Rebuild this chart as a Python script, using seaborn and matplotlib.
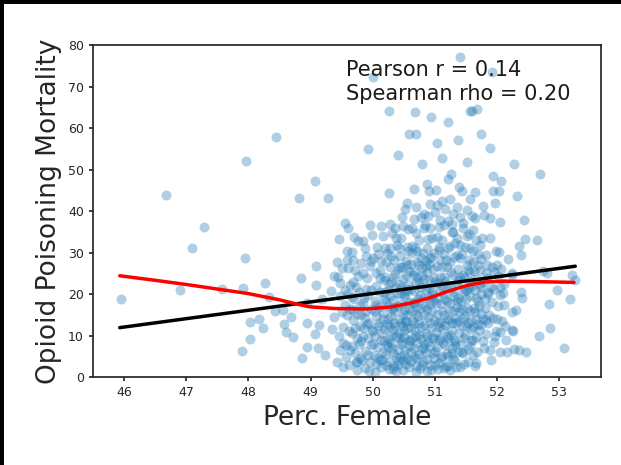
import matplotlib
matplotlib.use("Agg")
import matplotlib.pyplot as plt
from matplotlib.lines import Line2D
import pandas as pd
import seaborn as sns

# ---- county-level data: percent female vs opioid poisoning mortality ----
perc_female = [
    # low-female counties
    45.95, 46.68, 46.90, 47.09, 47.29, 47.58, 47.92, 47.94, 47.96, 47.90,
    48.02, 48.02, 48.17, 48.24, 48.26, 48.33, 48.43, 48.45, 48.56, 48.58,
    48.60, 48.68, 48.72, 48.82, 48.85, 48.87, 48.94, 48.95, 48.95, 49.07,
    49.09, 49.09, 49.07, 49.12, 49.14, 49.19, 49.24, 49.28, 49.33, 49.37,
    # high-mortality outliers
    51.41, 50.01, 50.26, 50.68, 50.94, 51.21, 51.56, 50.59, 50.70, 51.03,
    51.38, 49.92, 50.41, 51.12, 50.80, 51.52, 51.26, 51.21, 51.39, 51.92,
    51.60, 51.68, 51.74, 51.89, 52.28, 52.70, 51.94, 52.07, 52.33,
    # high-female counties
    52.43, 52.45, 52.65, 52.35, 52.38, 52.24, 52.74, 52.80, 53.20, 53.25,
    52.96, 52.38, 52.40, 53.18, 52.84, 52.31, 52.86, 52.26, 52.67, 53.08,
    52.27, 52.36, 52.46,
    # 49.4 - 49.6
    49.42, 49.45, 49.48, 49.50, 49.52, 49.55, 49.56, 49.58, 49.47, 49.53,
    49.59, 49.44, 49.57, 49.51, 49.56, 49.61, 49.48, 49.62,
    # 49.6 - 49.8
    49.64, 49.61, 49.69, 49.72, 49.66, 49.68, 49.70, 49.73, 49.75, 49.77,
    49.63, 49.71, 49.74, 49.78, 49.66, 49.79, 49.75, 49.69, 49.80, 49.62,
    # 49.8 - 50.0
    49.85, 49.85, 49.83, 49.82, 49.86, 49.88, 49.84, 49.90, 49.87, 49.92,
    49.95, 49.96, 49.94, 49.97, 49.99, 49.93, 49.98, 49.91, 49.89, 49.99,
    49.81,
    # 50.0 - 50.2
    50.07, 50.12, 50.12, 50.02, 50.04, 50.05, 50.03, 50.06, 50.08, 50.09,
    50.10, 50.11, 50.13, 50.14, 50.15, 50.16, 50.17, 50.18, 50.19, 50.01,
    50.14, 50.06, 50.20, 50.20, 50.18, 50.04,
    # 50.2 - 50.4
    50.26, 50.28, 50.28, 50.36, 50.22, 50.23, 50.24, 50.25, 50.27, 50.29,
    50.30, 50.31, 50.32, 50.33, 50.34, 50.35, 50.36, 50.37, 50.38, 50.39,
    50.21, 50.26, 50.30, 50.34, 50.38, 50.23, 50.31, 50.27,
    # 50.4 - 50.6
    50.42, 50.44, 50.44, 50.52, 50.47, 50.55, 50.41, 50.42, 50.43, 50.45,
    50.46, 50.47, 50.48, 50.49, 50.50, 50.51, 50.52, 50.53, 50.54, 50.55,
    50.56, 50.57, 50.58, 50.59, 50.40, 50.46, 50.50, 50.55, 50.58, 50.44,
    50.52, 50.57, 50.49, 50.53,
    # 50.6 - 50.8
    50.61, 50.61, 50.63, 50.66, 50.68, 50.66, 50.70, 50.62, 50.63, 50.64,
    50.65, 50.67, 50.68, 50.69, 50.70, 50.71, 50.72, 50.73, 50.74, 50.75,
    50.75, 50.76, 50.77, 50.77, 50.78, 50.79, 50.79, 50.72, 50.64, 50.70,
    50.66, 50.74, 50.69, 50.78,
    # 50.8 - 51.0
    50.82, 50.82, 50.87, 50.87, 50.93, 50.93, 50.87, 50.91, 50.81, 50.82,
    50.83, 50.84, 50.85, 50.86, 50.88, 50.89, 50.90, 50.91, 50.92, 50.93,
    50.94, 50.95, 50.96, 50.97, 50.98, 50.99, 50.85, 50.89, 50.95, 50.97,
    50.83, 50.99, 50.88, 50.92,
    # 51.0 - 51.2
    51.01, 51.02, 51.06, 51.09, 51.09, 51.14, 51.17, 51.01, 51.02, 51.03,
    51.04, 51.05, 51.06, 51.07, 51.08, 51.10, 51.11, 51.12, 51.13, 51.14,
    51.15, 51.16, 51.17, 51.18, 51.19, 51.20, 51.03, 51.12, 51.08, 51.15,
    51.05, 51.19, 51.11,
    # 51.2 - 51.4
    51.22, 51.25, 51.30, 51.30, 51.30, 51.25, 51.21, 51.22, 51.23, 51.24,
    51.26, 51.27, 51.28, 51.29, 51.31, 51.32, 51.33, 51.34, 51.35, 51.36,
    51.37, 51.38, 51.39, 51.33, 51.27, 51.36, 51.24, 51.38, 51.29,
    # 51.4 - 51.6
    51.41, 51.41, 51.41, 51.46, 51.46, 51.52, 51.57, 51.57, 51.44, 51.42,
    51.43, 51.44, 51.45, 51.47, 51.48, 51.49, 51.50, 51.51, 51.53, 51.54,
    51.55, 51.56, 51.58, 51.59, 51.51, 51.57, 51.47, 51.55,
    # 51.6 - 51.8
    51.62, 51.62, 51.62, 51.65, 51.65, 51.73, 51.76, 51.77, 51.79, 51.79,
    51.61, 51.63, 51.64, 51.66, 51.67, 51.68, 51.69, 51.71, 51.72, 51.74,
    51.75, 51.77, 51.78, 51.70, 51.66, 51.74,
    # 51.8 - 52.0
    51.84, 51.84, 51.86, 51.89, 51.89, 51.92, 51.95, 51.97, 51.94, 51.81,
    51.82, 51.85, 51.87, 51.88, 51.90, 51.93, 51.96, 51.98, 51.99, 51.83,
    51.91,
    # 52.0 - 52.3
    52.00, 52.03, 52.05, 52.05, 52.05, 52.00, 52.05, 52.05, 52.11, 52.16,
    52.03, 52.02, 52.08, 52.12, 52.14, 52.18, 52.24, 52.24, 52.24,
    # core cluster, 49.6 - 50.2
    49.63, 49.71, 49.67, 49.74, 49.78, 49.82, 49.88, 49.93, 49.97, 49.76,
    49.86, 49.91, 50.03, 50.08, 50.13, 50.01, 50.06, 50.16, 50.11, 50.19,
    49.98, 50.09, 49.87, 49.70, 49.95, 50.17, 49.84, 49.79, 50.00, 50.15,
    49.69, 49.73, 49.90, 50.05, 50.18, 49.94, 50.10, 49.66, 49.60, 49.57,
    # core cluster, 50.2 - 50.6
    50.22, 50.25, 50.29, 50.33, 50.37, 50.41, 50.45, 50.48, 50.51, 50.56,
    50.59, 50.24, 50.28, 50.32, 50.36, 50.40, 50.43, 50.47, 50.50, 50.54,
    50.58, 50.26, 50.35, 50.39, 50.44, 50.53, 50.57, 50.23, 50.31, 50.48,
    50.21, 50.30, 50.34, 50.42, 50.46, 50.52, 50.55, 50.59, 50.27, 50.38,
    50.49, 50.41, 50.33, 50.56, 50.28,
    # core cluster, 50.6 - 51.0
    50.61, 50.64, 50.67, 50.70, 50.73, 50.76, 50.79, 50.82, 50.85, 50.88,
    50.91, 50.94, 50.97, 50.99, 50.62, 50.65, 50.68, 50.71, 50.74, 50.77,
    50.80, 50.83, 50.86, 50.89, 50.92, 50.95, 50.98, 50.63, 50.72, 50.81,
    50.90, 50.96, 50.67, 50.84, 50.60, 50.69, 50.78, 50.87, 50.93, 50.75,
    50.66, 50.81, 50.94, 50.71, 50.89,
    # core cluster, 51.0 - 51.4
    51.01, 51.04, 51.07, 51.10, 51.13, 51.16, 51.19, 51.22, 51.25, 51.28,
    51.31, 51.34, 51.37, 51.02, 51.05, 51.08, 51.11, 51.14, 51.17, 51.20,
    51.23, 51.26, 51.29, 51.32, 51.35, 51.38, 51.03, 51.07, 51.12, 51.18,
    51.24, 51.31, 51.36, 51.06, 51.21, 51.00, 51.15, 51.27, 51.33, 51.39,
    51.09, 51.19, 51.28, 51.04, 51.35,
    # core cluster, 51.4 - 51.9
    51.41, 51.44, 51.47, 51.50, 51.53, 51.56, 51.59, 51.62, 51.65, 51.68,
    51.71, 51.74, 51.77, 51.42, 51.45, 51.48, 51.51, 51.54, 51.57, 51.60,
    51.63, 51.66, 51.69, 51.72, 51.43, 51.49, 51.55, 51.61, 51.67, 51.75,
    51.80, 51.83, 51.86, 51.46, 51.52, 51.58, 51.64, 51.70, 51.45, 51.60,
    51.82, 51.40,
    # cluster edges
    49.35, 49.38, 49.43, 49.46, 49.53, 49.58, 51.92, 51.95, 52.01, 52.06,
    52.10, 51.97, 52.13,
]

opioid_mortality = [
    # low-female counties
    18.7, 43.9, 20.9, 31.2, 36.2, 21.3, 21.4, 28.6, 52.0, 6.3,
    13.3, 9.2, 14.0, 11.7, 22.7, 19.3, 16.0, 57.9, 16.1, 12.7,
    10.8, 14.4, 9.6, 43.2, 23.9, 4.5, 7.3, 12.9, 17.8, 47.2,
    26.7, 22.1, 10.3, 7.1, 12.5, 18.8, 5.2, 43.2, 20.8, 14.4,
    # high-mortality outliers
    77.2, 72.2, 64.1, 63.8, 62.7, 61.4, 64.2, 58.6, 58.6, 56.5,
    57.2, 55.0, 53.6, 52.8, 51.3, 51.7, 48.9, 47.7, 45.9, 73.6,
    64.1, 64.6, 58.6, 55.3, 51.3, 48.8, 48.4, 47.2, 43.6,
    # high-female counties
    37.8, 33.2, 33.1, 31.6, 29.3, 25.0, 25.5, 25.0, 24.7, 23.3,
    21.0, 20.6, 19.1, 18.7, 17.7, 16.1, 11.8, 11.1, 10.0, 7.1,
    6.7, 6.4, 6.0,
    # 49.4 - 49.6
    3.5, 9.8, 6.5, 26.2, 12.1, 17.4, 21.0, 14.9, 19.6, 8.2,
    30.3, 24.1, 4.8, 15.6, 37.0, 35.8, 22.6, 11.0,
    # 49.6 - 49.8
    22.2, 26.2, 28.2, 25.8, 7.4, 13.8, 18.9, 3.6, 9.5, 32.8,
    16.3, 5.9, 15.1, 20.4, 10.6, 12.4, 3.7, 23.0, 17.0, 2.9,
    # 49.8 - 50.0
    32.8, 25.0, 4.1, 8.8, 11.7, 14.2, 17.9, 21.3, 6.2, 9.3,
    26.8, 3.7, 13.0, 16.5, 34.2, 19.7, 7.6, 23.8, 29.1, 11.4,
    27.4,
    # 50.0 - 50.2
    31.4, 25.8, 4.1, 5.2, 9.9, 14.6, 18.3, 22.0, 12.2, 7.3,
    16.8, 20.6, 27.9, 2.4, 10.7, 13.9, 6.0, 18.9, 23.4, 28.7,
    36.4, 3.1, 31.0, 24.2, 8.6, 16.0,
    # 50.2 - 50.4
    3.7, 31.0, 26.5, 36.0, 5.5, 12.8, 17.2, 20.9, 9.1, 14.7,
    22.8, 7.0, 11.4, 18.5, 2.6, 15.9, 24.9, 9.8, 4.9, 20.2,
    27.6, 44.3, 29.2, 13.1, 33.5, 8.0, 16.4, 1.9,
    # 50.4 - 50.6
    31.0, 26.5, 4.9, 40.6, 38.6, 31.4, 6.8, 10.5, 14.0, 17.6,
    21.4, 8.7, 12.3, 23.7, 5.4, 16.1, 19.2, 28.0, 3.2, 11.8,
    14.9, 22.3, 7.5, 18.0, 2.8, 33.4, 9.7, 42.0, 25.6, 19.9,
    13.3, 35.7, 1.6, 21.1,
    # 50.6 - 50.8
    6.1, 27.3, 36.0, 25.3, 31.0, 45.4, 41.0, 3.9, 9.4, 13.6,
    17.8, 20.7, 11.1, 15.3, 22.9, 4.5, 8.2, 18.8, 26.9, 33.0,
    13.0, 2.2, 28.6, 38.6, 16.6, 26.2, 6.7, 24.1, 29.8, 1.3,
    7.0, 10.2, 34.7, 21.8,
    # 50.8 - 51.0
    35.8, 39.4, 31.0, 25.4, 28.6, 35.8, 46.6, 44.9, 3.5, 8.0,
    12.6, 17.1, 21.2, 5.8, 10.0, 14.4, 19.4, 23.3, 2.9, 7.4,
    11.9, 16.0, 20.8, 26.1, 4.6, 13.7, 28.0, 33.2, 9.3, 18.2,
    23.6, 30.0, 1.5, 41.6,
    # 51.0 - 51.2
    39.8, 45.1, 31.4, 28.2, 24.2, 36.6, 40.6, 6.3, 10.8, 15.2,
    19.0, 22.6, 3.4, 8.9, 13.3, 17.5, 26.4, 5.1, 11.6, 20.1,
    15.0, 7.8, 23.2, 2.7, 9.9, 18.4, 33.7, 42.3, 37.9, 29.6,
    1.9, 13.9, 21.9,
    # 51.2 - 51.4
    31.0, 27.8, 24.6, 35.0, 39.4, 1.7, 5.0, 9.4, 13.8, 17.9,
    21.5, 7.0, 11.4, 15.8, 19.6, 3.9, 8.5, 12.9, 22.7, 16.9,
    26.0, 6.1, 10.6, 32.4, 36.8, 29.3, 43.0, 19.1, 4.4,
    # 51.4 - 51.6
    38.6, 31.8, 28.6, 35.8, 5.7, 40.2, 31.0, 25.4, 44.9, 8.0,
    12.2, 16.4, 20.5, 23.9, 10.1, 14.6, 18.7, 27.0, 6.8, 12.9,
    21.6, 16.0, 9.0, 23.1, 33.9, 42.9, 3.1, 28.2,
    # 51.6 - 51.8
    35.4, 27.8, 5.3, 38.2, 44.5, 31.8, 33.4, 41.2, 39.0, 6.9,
    12.0, 16.7, 20.9, 9.6, 14.1, 23.6, 18.4, 11.3, 25.9, 15.3,
    20.0, 8.6, 23.0, 29.6, 3.3, 12.5,
    # 51.8 - 52.0
    27.0, 23.8, 12.9, 38.2, 33.4, 18.1, 8.5, 42.0, 44.8, 16.6,
    10.3, 19.9, 15.0, 6.4, 21.8, 14.3, 25.2, 30.3, 11.2, 29.5,
    4.2,
    # 52.0 - 52.3
    27.0, 30.2, 37.4, 21.7, 19.8, 14.1, 10.9, 6.1, 17.3, 6.1,
    44.8, 24.3, 13.6, 22.5, 9.0, 28.4, 24.6, 15.7, 11.3,
    # core cluster, 49.6 - 50.2
    6.4, 11.9, 19.3, 1.8, 8.0, 14.9, 2.1, 5.3, 20.9, 24.4,
    19.0, 12.7, 1.2, 4.6, 8.9, 11.0, 17.4, 15.5, 23.9, 11.6,
    27.9, 29.6, 31.2, 33.8, 36.7, 33.9, 9.8, 4.6, 7.9, 4.1,
    16.1, 21.7, 15.9, 25.1, 20.4, 1.4, 13.1, 30.1, 20.1, 7.7,
    # core cluster, 50.2 - 50.6
    2.9, 7.3, 10.2, 5.8, 1.5, 3.9, 7.9, 15.2, 11.2, 4.3,
    9.0, 14.1, 19.5, 24.1, 12.2, 17.0, 22.3, 26.6, 19.9, 13.6,
    16.7, 22.4, 28.1, 31.9, 29.1, 24.7, 30.3, 29.9, 34.6, 36.5,
    18.2, 8.3, 16.9, 9.5, 12.9, 6.4, 20.8, 2.4, 12.4, 21.8,
    4.0, 26.0, 2.0, 27.0, 36.9,
    # core cluster, 50.6 - 51.0
    11.8, 15.9, 4.9, 9.8, 14.7, 19.7, 3.0, 6.9, 10.6, 16.3,
    21.4, 1.6, 5.8, 9.5, 21.2, 24.5, 18.0, 27.6, 5.6, 12.0,
    24.6, 15.0, 26.8, 8.4, 13.0, 19.8, 23.9, 31.6, 30.4, 29.9,
    27.2, 33.6, 38.1, 36.7, 8.6, 2.7, 9.1, 4.3, 17.6, 23.0,
    13.0, 19.0, 29.0, 16.8, 38.8,
    # core cluster, 51.0 - 51.4
    3.0, 7.2, 12.1, 4.5, 8.2, 12.5, 5.9, 2.6, 10.1, 5.9,
    9.0, 2.4, 13.5, 17.8, 13.0, 20.8, 15.9, 24.0, 18.9, 22.1,
    16.2, 25.2, 20.4, 14.3, 18.3, 23.4, 26.8, 30.6, 33.0, 28.3,
    31.5, 28.9, 33.6, 36.2, 37.6, 22.8, 2.2, 13.0, 7.6, 16.0,
    9.5, 26.4, 34.9, 41.4, 40.9,
    # core cluster, 51.4 - 51.9
    2.3, 6.1, 9.3, 12.4, 3.6, 7.4, 13.6, 9.0, 15.7, 6.0,
    17.0, 21.6, 14.1, 18.2, 24.6, 20.9, 16.7, 25.8, 19.5, 22.0,
    25.6, 19.1, 27.0, 22.4, 29.6, 31.3, 34.4, 30.4, 33.0, 28.4,
    18.7, 25.0, 20.6, 14.2, 21.0, 11.6, 2.6, 12.8, 37.2, 38.9,
    13.8, 24.0,
    # cluster edges
    11.5, 24.3, 27.8, 33.2, 2.5, 28.1, 26.6, 21.1, 17.0, 26.0,
    20.2, 9.9, 12.3,
]

# linear fit endpoints and lowess smooth
fit_x = [45.93, 53.26]
fit_y = [11.9, 26.7]
lowess_x = [45.93, 46.50, 47.00, 47.50, 48.00, 48.50, 48.80, 49.00, 49.40,
            49.90, 50.30, 50.60, 50.90, 51.20, 51.50, 51.80, 52.10, 52.60,
            53.24]
lowess_y = [24.4, 23.3, 22.3, 21.2, 20.1, 18.6, 17.5, 16.9, 16.5,
            16.4, 16.9, 17.8, 19.0, 20.6, 22.0, 22.9, 23.1, 23.0,
            22.8]

pearson_r = 0.14
spearman_rho = 0.20

x_ticks = [46, 47, 48, 49, 50, 51, 52, 53]
y_ticks = [0, 10, 20, 30, 40, 50, 60, 70, 80]

df = pd.DataFrame({"female": perc_female, "mortality": opioid_mortality})
fit_df = pd.DataFrame({"x": fit_x, "y": fit_y})
smooth_df = pd.DataFrame({"x": lowess_x, "y": lowess_y})

sns.set_theme(style="ticks")
plt.rcParams["font.family"] = ["DejaVu Sans"]
plt.rcParams["xtick.major.size"] = 3
plt.rcParams["ytick.major.size"] = 3

fig = plt.figure(figsize=(6.21, 4.65), dpi=100)
ax = fig.add_axes([0.1498, 0.1892, 0.8176, 0.714])

sns.scatterplot(data=df, x="female", y="mortality", ax=ax,
                color="#1f77b4", alpha=0.35, s=52, linewidth=0)
sns.lineplot(data=fit_df, x="x", y="y", ax=ax, color="black", linewidth=2.5)
sns.lineplot(data=smooth_df, x="x", y="y", ax=ax, color="red", linewidth=2.5)

ax.set_xlim(45.5, 53.67)
ax.set_ylim(0, 80)
ax.set_xticks(x_ticks)
ax.set_yticks(y_ticks)
ax.tick_params(labelsize=9, colors=".15")
ax.set_xlabel("Perc. Female", fontsize=19)
ax.set_ylabel("Opioid Poisoning Mortality", fontsize=19)

ax.text(49.57, 76.3,
        f"Pearson r = {pearson_r:.2f}\nSpearman rho = {spearman_rho:.2f}",
        fontsize=15, va="top", ha="left", color=".1")

# frame lines along the left and top edge of the figure
fig.add_artist(Line2D([0.0, 0.0], [0, 1], transform=fig.transFigure,
                      color="black", linewidth=5))
fig.add_artist(Line2D([0, 1], [1.0, 1.0], transform=fig.transFigure,
                      color="black", linewidth=5))

fig.savefig("out.png", dpi=100)
